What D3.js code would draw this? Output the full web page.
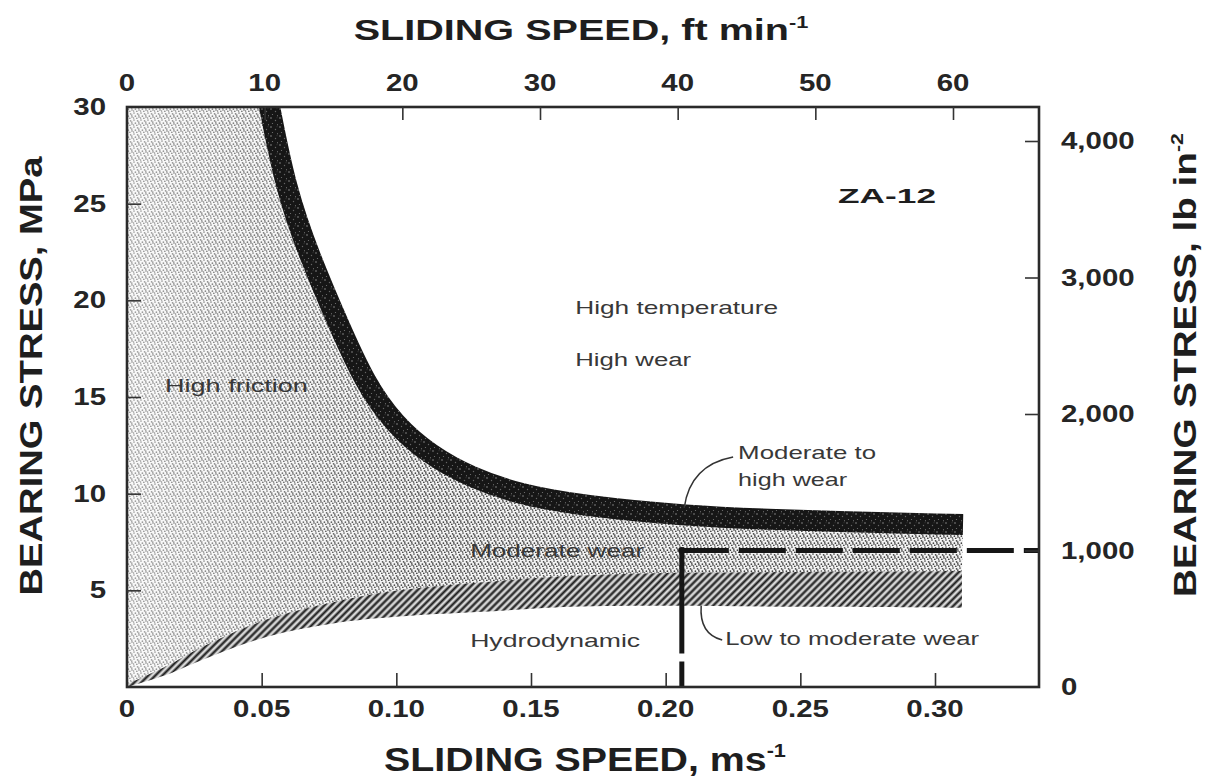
<!DOCTYPE html>
<html>
<head>
<meta charset="utf-8">
<script src="https://cdn.jsdelivr.net/npm/d3@7"></script>
<style>
  html, body { margin: 0; padding: 0; background: #fff; }
  svg { display: block; }
</style>
</head>
<body>
<svg id="chart" width="1207" height="778"></svg>
<script>
// ---- Axis tick values ----
const speedTicks = [0, 0.05, 0.10, 0.15, 0.20, 0.25, 0.30];      // m/s
const speedFtTicks = [0, 10, 20, 30, 40, 50, 60];                // ft/min
const stressTicks = [5, 10, 15, 20, 25, 30];                     // MPa
const stressPsiTicks = [0, 1000, 2000, 3000, 4000];              // lb/in^2

// ---- Moderate-to-high wear band (centre line): [sliding speed m/s, bearing stress MPa] ----
const highWearBand = [[0.0524, 30.4], [0.0590, 25.7], [0.0680, 22.2], [0.0784, 18.8],
  [0.0884, 15.7], [0.0995, 13.55], [0.1125, 12.0], [0.1274, 10.85], [0.1459, 9.95],
  [0.1682, 9.4], [0.2065, 8.85], [0.25, 8.6], [0.3104, 8.4]];

// ---- Low-to-moderate wear band: upper and lower edges ----
const lowWearUpper = [[0, 0.15], [0.015, 1.1], [0.027, 2.0], [0.052, 3.5], [0.077, 4.4],
  [0.101, 5.0], [0.139, 5.5], [0.165, 5.75], [0.2, 5.9], [0.25, 5.95], [0.31, 6.0]];
const lowWearLower = [[0, 0], [0.015, 0.65], [0.027, 1.35], [0.052, 2.6], [0.077, 3.3],
  [0.101, 3.65], [0.139, 3.95], [0.165, 4.15], [0.2, 4.2], [0.25, 4.15], [0.31, 4.1]];

// ---- Recommended operating limit ----
const limitSpeed = 0.206;      // m/s
const limitStressPsi = 1000;   // lb/in^2

// ---- Region labels ----
const regionLabels = ["High friction", "High temperature", "High wear", "Moderate to",
  "high wear", "Moderate wear", "Hydrodynamic", "Low to moderate wear"];
const alloyName = "ZA-12";

// ---------------------------------------------------------------
const svg = d3.select("#chart");
const defs = svg.append("defs");
const FONT = '"Liberation Sans", Arial, Helvetica, sans-serif';

const plot = { left: 127, right: 1039, top: 107, bottom: 687 };

const x = d3.scaleLinear().domain([0, 0.30]).range([plot.left, 935]);
const xFt = d3.scaleLinear().domain([0, 60]).range([plot.left, 953]);
const y = d3.scaleLinear().domain([0, 30]).range([plot.bottom, plot.top]);
const yPsi = d3.scaleLinear().domain([0, 4000]).range([plot.bottom, 141]);

// text helper: stretches glyphs horizontally to a requested width
function addText(parent, px, py, parts, o = {}) {
  const size = o.size || 20;
  const t = parent.append("text")
    .attr("text-anchor", o.anchor || "start")
    .attr("font-family", FONT)
    .attr("font-size", size)
    .attr("font-weight", o.weight || "normal")
    .attr("fill", o.fill || "#222");
  (Array.isArray(parts) ? parts : [parts]).forEach(p => {
    if (typeof p === "string") t.append("tspan").text(p);
    else t.append("tspan").attr("font-size", size * 0.55).attr("dy", -size * 0.42).text(p.sup);
  });
  let sx = o.sx || 1;
  if (o.width) {
    const w = t.node().getBBox().width;
    if (w > 0) sx = o.width / w;
  }
  t.attr("transform", `translate(${px},${py}) rotate(${o.rotate || 0}) scale(${sx},1)`);
  return t;
}

// ---- patterns ----
const stip = defs.append("pattern").attr("id", "stipple")
  .attr("patternUnits", "userSpaceOnUse").attr("width", 7).attr("height", 7);
stip.append("rect").attr("width", 7).attr("height", 7).attr("fill", "#f2f2f2");
[[1, 1], [4.6, 1.8], [2.4, 4.2], [6, 4.9], [0.5, 6], [3.8, 6.4], [5.8, 3.1]].forEach(d =>
  stip.append("circle").attr("cx", d[0]).attr("cy", d[1]).attr("r", 0.85).attr("fill", "#444"));

const speck = defs.append("pattern").attr("id", "speckle")
  .attr("patternUnits", "userSpaceOnUse").attr("width", 9).attr("height", 9);
speck.append("rect").attr("width", 9).attr("height", 9).attr("fill", "#161616");
[[1, 1, 0.8, "#8a8a8a"], [5.5, 3.5, 0.7, "#666"], [2.5, 6.5, 0.6, "#777"],
 [7.5, 7.8, 0.5, "#999"], [7, 0.8, 0.45, "#555"]].forEach(d =>
  speck.append("circle").attr("cx", d[0]).attr("cy", d[1]).attr("r", d[2]).attr("fill", d[3]));

const hatch = defs.append("pattern").attr("id", "hatch")
  .attr("patternUnits", "userSpaceOnUse").attr("width", 5).attr("height", 5)
  .attr("patternTransform", "rotate(45)");
hatch.append("rect").attr("width", 5).attr("height", 5).attr("fill", "#d6d6d6");
hatch.append("line").attr("x1", 2.5).attr("y1", 0).attr("x2", 2.5).attr("y2", 5)
  .attr("stroke", "#1c1c1c").attr("stroke-width", 2.2);

const fade = defs.append("linearGradient").attr("id", "fade")
  .attr("gradientUnits", "userSpaceOnUse")
  .attr("x1", plot.left).attr("x2", 430).attr("y1", 0).attr("y2", 0);
fade.append("stop").attr("offset", 0).attr("stop-color", "#fff").attr("stop-opacity", 0.5);
fade.append("stop").attr("offset", 1).attr("stop-color", "#fff").attr("stop-opacity", 0);

defs.append("clipPath").attr("id", "plotClip").append("rect")
  .attr("x", plot.left).attr("y", plot.top)
  .attr("width", plot.right - plot.left).attr("height", plot.bottom - plot.top);

// ---- regions ----
const line = d3.line().x(d => x(d[0])).y(d => y(d[1])).curve(d3.curveCatmullRom.alpha(0.5));
const smooth = d3.line().x(d => x(d[0])).y(d => y(d[1])).curve(d3.curveBasis);
const rev = a => a.slice().reverse();
const asL = p => p.replace(/^M/, "L");

const regions = svg.append("g").attr("clip-path", "url(#plotClip)");

// stippled zone: high friction + moderate wear
const stipplePath = `M${x(0)},${y(0)}` + asL(line(lowWearUpper)) +
  asL(smooth(rev(highWearBand))) + `L${x(0)},${y(30.4)}Z`;
regions.append("path").attr("d", stipplePath).attr("fill", "url(#stipple)");
regions.append("path").attr("d", stipplePath).attr("fill", "url(#fade)");

// hatched zone: low to moderate wear
regions.append("path")
  .attr("d", line(lowWearUpper) + asL(line(rev(lowWearLower))) + "Z")
  .attr("fill", "url(#hatch)");

// dark zone: moderate to high wear
regions.append("path")
  .attr("d", smooth(highWearBand))
  .attr("fill", "none").attr("stroke", "url(#speckle)")
  .attr("stroke-width", 21).attr("stroke-linecap", "butt");

// ---- operating limit (dashed) ----
const lx = x(limitSpeed), ly = yPsi(limitStressPsi);
svg.append("line").attr("x1", lx).attr("y1", ly).attr("x2", plot.right).attr("y2", ly)
  .attr("stroke", "#161616").attr("stroke-width", 5).attr("stroke-dasharray", "47,10");
svg.append("line").attr("x1", lx).attr("y1", ly).attr("x2", lx).attr("y2", plot.bottom)
  .attr("stroke", "#161616").attr("stroke-width", 5).attr("stroke-dasharray", "103,8,200");
svg.append("circle").attr("cx", lx).attr("cy", ly).attr("r", 3.6).attr("fill", "#161616");

// ---- frame and ticks ----
svg.append("rect").attr("x", plot.left).attr("y", plot.top)
  .attr("width", plot.right - plot.left).attr("height", plot.bottom - plot.top)
  .attr("fill", "none").attr("stroke", "#2a2a2a").attr("stroke-width", 2.6);

function styleAxis(g) {
  g.select(".domain").remove();
  g.selectAll(".tick line").attr("stroke", "#333").attr("stroke-width", 1.6);
}
svg.append("g").attr("transform", `translate(0,${plot.bottom})`)
  .call(d3.axisBottom(x).tickValues(speedTicks.slice(1)).tickSize(-14).tickFormat(""))
  .call(styleAxis);
svg.append("g").attr("transform", `translate(0,${plot.top})`)
  .call(d3.axisTop(xFt).tickValues(speedFtTicks.slice(1)).tickSize(-13).tickFormat(""))
  .call(styleAxis);
svg.append("g").attr("transform", `translate(${plot.left},0)`)
  .call(d3.axisLeft(y).tickValues(stressTicks.slice(0, -1)).tickSize(-14).tickFormat(""))
  .call(styleAxis);
svg.append("g").attr("transform", `translate(${plot.right},0)`)
  .call(d3.axisRight(yPsi).tickValues(stressPsiTicks.slice(1)).tickSize(-14).tickFormat(""))
  .call(styleAxis);

// ---- tick labels ----
const tl = svg.append("g");
const tickOpts = { size: 23, weight: "bold", fill: "#252525", sx: 1.28 };
speedTicks.forEach(v => addText(tl, x(v), 717, v === 0 ? "0" : d3.format(".2f")(v),
  { ...tickOpts, anchor: "middle" }));
speedFtTicks.forEach(v => addText(tl, xFt(v), 91, String(v), { ...tickOpts, anchor: "middle" }));
stressTicks.forEach(v => addText(tl, 106, y(v) + 8, String(v), { ...tickOpts, anchor: "end" }));
stressPsiTicks.forEach(v => addText(tl, 1061, yPsi(v) + 8, d3.format(",")(v),
  { ...tickOpts, anchor: "start" }));

// ---- axis titles ----
const titleOpts = { weight: "bold", fill: "#1e1e1e", anchor: "middle" };
addText(svg, 581, 40, ["SLIDING SPEED, ft min", { sup: "-1" }], { ...titleOpts, size: 29, width: 455 });
addText(svg, 585, 771, ["SLIDING SPEED, ms", { sup: "-1" }], { ...titleOpts, size: 33, width: 402 });
addText(svg, 42, 376, ["BEARING STRESS, MPa"], { ...titleOpts, size: 31, width: 440, rotate: -90 });
addText(svg, 1196, 365, ["BEARING STRESS, lb in", { sup: "-2" }], { ...titleOpts, size: 31, width: 464, rotate: -90 });

// ---- region annotations ----
const ann = svg.append("g");
const annOpts = { size: 19, fill: "#383838" };
const annPos = [
  [0.0141, 15.26, 143], [0.1664, 19.29, 203], [0.1664, 16.6, 117], [0.2269, 11.79, 138],
  [0.2269, 10.4, 110], [0.1274, 6.72, 175], [0.1274, 2.07, 170], [0.2221, 2.17, 255]
];
regionLabels.forEach((txt, i) => {
  const p = annPos[i];
  addText(ann, x(p[0]), y(p[1]), txt, { ...annOpts, width: p[2] });
});
addText(ann, x(0.264), y(25.03), alloyName, { size: 21, weight: "bold", fill: "#1e1e1e", width: 98 });

// leader lines
const mx = x(0.2269) - 5, my = y(11.79) - 2;
ann.append("path")
  .attr("d", `M${mx},${my} Q${x(0.2065) + 7},${my + 8} ${x(0.2065) + 1},${y(8.85) - 8}`)
  .attr("fill", "none").attr("stroke", "#333").attr("stroke-width", 1.5);
const wx = x(0.2221) - 3, wy = y(2.17) - 5;
ann.append("path")
  .attr("d", `M${wx},${wy} Q${x(0.2065) + 16},${wy - 6} ${x(0.2065) + 18},${y(4.15) - 1}`)
  .attr("fill", "none").attr("stroke", "#333").attr("stroke-width", 1.5);
</script>
</body>
</html>
